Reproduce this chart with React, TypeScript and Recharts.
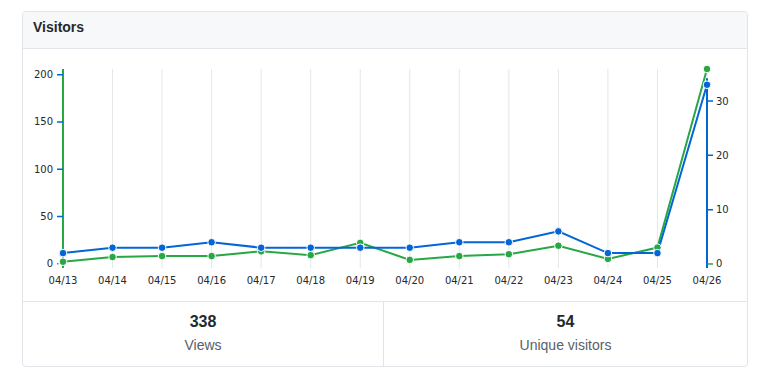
import React from 'react';
import { LineChart, Line, XAxis, YAxis, CartesianGrid, ReferenceLine } from 'recharts';

const dates = ['04/13', '04/14', '04/15', '04/16', '04/17', '04/18', '04/19', '04/20', '04/21', '04/22', '04/23', '04/24', '04/25', '04/26'];
const views = [2, 7, 8, 8, 13, 9, 22, 4, 8, 10, 19, 5, 17, 206];
const uniques = [2, 3, 3, 4, 3, 3, 3, 3, 4, 4, 6, 2, 2, 33];
const viewTicks = [0, 50, 100, 150, 200];
const uniqueTicks = [0, 10, 20, 30];
const totalViews = 338;
const totalUniques = 54;

const GREEN = '#28a745';
const BLUE = '#0366d6';
const TEXT = '#24292e';
const BORDER = '#e1e4e8';

const data = dates.map((d, i) => ({ date: d, views: views[i], uniques: uniques[i] }));

const LeftTick = (props: any) => {
  const { x, y, payload } = props;
  const zero = payload.value === 0;
  return (
    <g>
      <line x1={x + 4} x2={zero ? x + 5.5 : x + 10} y1={y} y2={y} stroke={zero ? GREEN : BLUE} strokeWidth={1.5} />
      <text x={x} y={y} dy="0.35em" textAnchor="end" fontSize={10} fill={TEXT} fontFamily="DejaVu Sans">{payload.value}</text>
    </g>
  );
};

const RightTick = (props: any) => {
  const { x, y, payload } = props;
  const zero = payload.value === 0;
  return (
    <g>
      <line x1={x - 9} x2={x - 3} y1={y} y2={y} stroke={zero ? GREEN : BLUE} strokeWidth={1.5} />
      <text x={x} y={y} dy="0.35em" textAnchor="start" fontSize={10} fill={TEXT} fontFamily="DejaVu Sans">{payload.value}</text>
    </g>
  );
};

export default function App() {
  return (
    <div
      style={{
        position: 'absolute',
        left: 22,
        top: 11,
        width: 726,
        height: 356,
        boxSizing: 'border-box',
        border: `1px solid ${BORDER}`,
        borderRadius: 4,
        background: '#fff',
        overflow: 'hidden',
        fontFamily: '"Liberation Sans", Arial, sans-serif',
        color: TEXT,
      }}
    >
      <div
        style={{
          height: 37,
          boxSizing: 'border-box',
          paddingTop: 7,
          paddingLeft: 10,
          background: '#f6f8fa',
          borderBottom: `1px solid ${BORDER}`,
          fontSize: 14,
          fontWeight: 700,
          lineHeight: '16px',
        }}
      >
        Visitors
      </div>
      <LineChart width={724} height={252} data={data} margin={{ top: 20, right: 0, left: 0, bottom: 0 }}>
        <CartesianGrid horizontal={false} stroke="#e6e6e6" strokeWidth={1} />
        <XAxis
          dataKey="date"
          axisLine={false}
          tickLine={false}
          tickMargin={3}
          height={33}
          interval={0}
          tick={{ fontSize: 10, fill: TEXT, fontFamily: 'DejaVu Sans' }}
        />
        <YAxis
          yAxisId="left"
          orientation="left"
          width={40}
          type="number"
          domain={[-4.6, 206]}
          ticks={viewTicks}
          axisLine={{ stroke: GREEN, strokeWidth: 2 }}
          tickLine={false}
          tickMargin={4}
          tick={<LeftTick />}
        />
        <YAxis
          yAxisId="right"
          orientation="right"
          width={40}
          type="number"
          domain={[-0.74, 35.9]}
          ticks={uniqueTicks}
          axisLine={false}
          tickLine={false}
          tickMargin={3}
          tick={<RightTick />}
        />
        <ReferenceLine
          yAxisId="right"
          segment={[{ x: '04/26', y: -0.74 }, { x: '04/26', y: 34.2 }]}
          stroke={BLUE}
          strokeWidth={2}
          ifOverflow="visible"
        />
        <Line
          yAxisId="left"
          type="linear"
          dataKey="views"
          stroke={GREEN}
          strokeWidth={2}
          dot={{ r: 3.8, fill: GREEN, stroke: '#fff', strokeWidth: 1 }}
          activeDot={false}
          isAnimationActive={false}
        />
        <Line
          yAxisId="right"
          type="linear"
          dataKey="uniques"
          stroke={BLUE}
          strokeWidth={2}
          dot={{ r: 3.8, fill: BLUE, stroke: '#fff', strokeWidth: 1 }}
          activeDot={false}
          isAnimationActive={false}
        />
      </LineChart>
      <div style={{ display: 'flex', borderTop: `1px solid ${BORDER}`, height: 64 }}>
        <div style={{ width: 361, borderRight: `1px solid ${BORDER}`, textAlign: 'center', paddingTop: 10, boxSizing: 'border-box' }}>
          <div style={{ fontSize: 16, fontWeight: 700, lineHeight: '20px' }}>{totalViews}</div>
          <div style={{ fontSize: 14, lineHeight: '20px', marginTop: 3, color: '#586069' }}>Views</div>
        </div>
        <div style={{ flex: 1, textAlign: 'center', paddingTop: 10 }}>
          <div style={{ fontSize: 16, fontWeight: 700, lineHeight: '20px' }}>{totalUniques}</div>
          <div style={{ fontSize: 14, lineHeight: '20px', marginTop: 3, color: '#586069' }}>Unique visitors</div>
        </div>
      </div>
    </div>
  );
}
